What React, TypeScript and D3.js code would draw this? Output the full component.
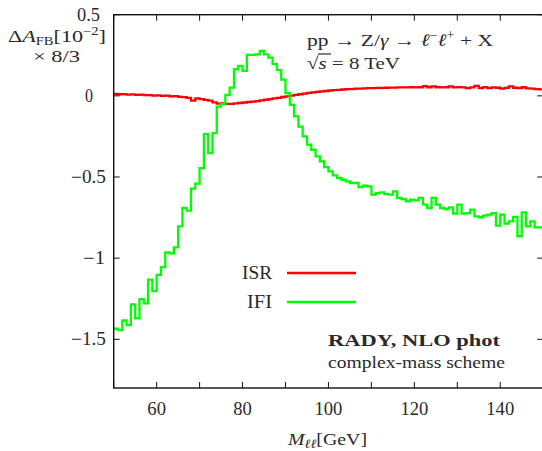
import React from "react";
import * as d3 from "d3";

// bin edges: 1 GeV bins from 50 to 150
const binStart = 50;
const binEnd = 150;

const isrValues = [
  0.012, 0.010, 0.011, 0.008, 0.009, 0.006, 0.007, 0.004, 0.005, 0.002,
  0.003, 0.000, 0.001, -0.003, -0.002, -0.006, -0.008, -0.012, -0.030, -0.016,
  -0.020, -0.025, -0.030, -0.040, -0.048, -0.046, -0.050, -0.049, -0.046, -0.044,
  -0.041, -0.038, -0.035, -0.032, -0.028, -0.024, -0.020, -0.016, -0.012, -0.007,
  -0.003, 0.002, 0.006, 0.010, 0.014, 0.018, 0.021, 0.024, 0.027, 0.030,
  0.033, 0.035, 0.037, 0.039, 0.041, 0.042, 0.044, 0.045, 0.046, 0.047,
  0.048, 0.049, 0.049, 0.050, 0.051, 0.051, 0.052, 0.052, 0.052, 0.053,
  0.052, 0.053, 0.060, 0.053, 0.059, 0.053, 0.052, 0.053, 0.058, 0.052,
  0.054, 0.052, 0.048, 0.052, 0.062, 0.048, 0.054, 0.047, 0.052, 0.050,
  0.044, 0.049, 0.058, 0.050, 0.047, 0.053, 0.046, 0.044, 0.041, 0.040,
];

const ifiValues = [
  -1.435, -1.443, -1.384, -1.412, -1.285, -1.371, -1.253, -1.279, -1.132, -1.203,
  -1.103, -1.056, -0.964, -0.970, -0.933, -0.804, -0.691, -0.707, -0.572, -0.541,
  -0.445, -0.236, -0.353, -0.230, -0.066, -0.051, 0.006, 0.051, 0.164, 0.185,
  0.154, 0.252, 0.252, 0.256, 0.277, 0.256, 0.235, 0.195, 0.160, 0.100,
  0.017, -0.055, -0.127, -0.189, -0.250, -0.301, -0.332, -0.373, -0.404, -0.439,
  -0.465, -0.490, -0.506, -0.517, -0.527, -0.537, -0.537, -0.562, -0.554, -0.558,
  -0.609, -0.599, -0.595, -0.605, -0.609, -0.588, -0.629, -0.636, -0.650, -0.640,
  -0.644, -0.629, -0.670, -0.691, -0.629, -0.670, -0.691, -0.697, -0.687, -0.726,
  -0.670, -0.726, -0.722, -0.701, -0.742, -0.748, -0.738, -0.732, -0.722, -0.800,
  -0.732, -0.787, -0.773, -0.746, -0.865, -0.718, -0.804, -0.773, -0.810, -0.810,
];

const xTicks = [50, 60, 70, 80, 90, 100, 110, 120, 130, 140, 150];
const xTickLabels = ["60", "80", "100", "120", "140"];
const yTicks = [0.5, 0, -0.5, -1, -1.5];
const yTickLabels = ["0.5", "0", "−0.5", "−1", "−1.5"];

const W = 542;
const H = 451;
const FONT = "'Liberation Serif', 'DejaVu Serif', serif";
const TXT = "#2a2a2a";
const FS = 17.5;

// rough widths of the Computer Modern labels in the original
const yLabelWidth: Record<string, number> = { "0.5": 23, "0": 8, "−0.5": 35, "−1": 22, "−1.5": 35 };
const yLabelEnd: Record<string, number> = { "0.5": 100, "0": 93, "−0.5": 106, "−1": 105, "−1.5": 106 };

export default function App() {
  const x = d3.scaleLinear().domain([50, 150]).range([113.7, 543.2]);
  const y = d3.scaleLinear().domain([-1.8, 0.5]).range([388, 14.7]);

  const edges = d3.range(binStart, binEnd + 1);
  const stepLine = d3
    .line<[number, number]>()
    .x((d) => x(d[0]))
    .y((d) => y(d[1]))
    .curve(d3.curveStepAfter);

  const toPts = (vals: number[]): [number, number][] =>
    edges.map((e, i) => [e, vals[Math.min(i, vals.length - 1)]]);

  const left = x(50);
  const right = x(150);
  const top = y(0.5);
  const bottom = y(-1.8);

  const T = (p: any) => (
    <text fontFamily={FONT} fontSize={FS} fill={TXT} lengthAdjust="spacingAndGlyphs" {...p} />
  );

  return (
    <div style={{ position: "absolute", left: 0, top: 0 }}>
      <svg width={W} height={H} style={{ display: "block", background: "#fff" }}>
        <defs>
          <clipPath id="plotClip">
            <rect x={left} y={top} width={right - left} height={bottom - top} />
          </clipPath>
        </defs>

        <g clipPath="url(#plotClip)">
          <path d={stepLine(toPts(isrValues)) || ""} fill="none" stroke="#ff0000" strokeWidth={2.3} />
          <path d={stepLine(toPts(ifiValues)) || ""} fill="none" stroke="#00ff00" strokeWidth={2.3} />
        </g>

        {/* frame */}
        <rect x={left} y={top} width={right - left} height={bottom - top} fill="none" stroke="#111" strokeWidth={1.4} />

        {/* x ticks (inward, bottom + top) */}
        {xTicks.map((t) => (
          <g key={"xt" + t}>
            <line x1={x(t)} x2={x(t)} y1={bottom} y2={bottom - 6} stroke="#111" strokeWidth={1} />
            <line x1={x(t)} x2={x(t)} y1={top} y2={top + 6} stroke="#111" strokeWidth={1} />
          </g>
        ))}
        {xTickLabels.map((l) => (
          <T key={"xl" + l} x={x(+l)} y={415} fontSize={18} textAnchor="middle" textLength={l.length * 9.3}>
            {l}
          </T>
        ))}

        {/* y ticks */}
        {yTicks.map((t, i) => (
          <g key={"yt" + t}>
            <line x1={left} x2={left + 6} y1={y(t)} y2={y(t)} stroke="#111" strokeWidth={1} />
            <line x1={right} x2={right - 6} y1={y(t)} y2={y(t)} stroke="#111" strokeWidth={1} />
            <T
              x={yLabelEnd[yTickLabels[i]] - yLabelWidth[yTickLabels[i]]}
              y={y(t) + 6}
              fontSize={18}
              textLength={yLabelWidth[yTickLabels[i]]}
            >
              {yTickLabels[i]}
            </T>
          </g>
        ))}

        {/* y label */}
        <T x={8} y={42} textLength={98}>
          Δ<tspan fontStyle="italic">A</tspan>
          <tspan fontSize={11.5} dy={3}>FB</tspan>
          <tspan dy={-3}>[10</tspan>
          <tspan fontSize={11.5} dy={-7}>−2</tspan>
          <tspan dy={7}>]</tspan>
        </T>
        <T x={33} y={62} textLength={47}>
          × 8/3
        </T>

        {/* x label */}
        <T x={288} y={445} textLength={79}>
          <tspan fontStyle="italic">M</tspan>
          <tspan fontSize={12.5} fontStyle="italic" dy={3}>ℓℓ</tspan>
          <tspan dy={-3}>[GeV]</tspan>
        </T>

        {/* process annotation */}
        <T x={307} y={46} textLength={186}>
          pp → Z/<tspan fontStyle="italic">γ</tspan> → <tspan fontStyle="italic">ℓ</tspan>
          <tspan fontSize={11.5} dy={-7}>−</tspan>
          <tspan dy={7} fontStyle="italic">ℓ</tspan>
          <tspan fontSize={11.5} dy={-7}>+</tspan>
          <tspan dy={7}> + X</tspan>
        </T>
        <T x={307} y={69} textLength={93}>
          √<tspan fontStyle="italic">s</tspan> = 8 TeV
        </T>
        <line x1={318} x2={331} y1={54} y2={54} stroke={TXT} strokeWidth={1.2} />

        {/* legend */}
        <T x={242} y={279} fontSize={18} textLength={30}>ISR</T>
        <line x1={287} x2={356} y1={273} y2={273} stroke="#ff0000" strokeWidth={2.3} />
        <T x={247} y={308} fontSize={18} textLength={25}>IFI</T>
        <line x1={287} x2={356} y1={302} y2={302} stroke="#00ff00" strokeWidth={2.3} />

        {/* scheme notes */}
        <T x={328} y={346} fontWeight="bold" textLength={172}>
          RADY, NLO phot
        </T>
        <T x={328} y={368} fontSize={16.5} textLength={177}>
          complex-mass scheme
        </T>
      </svg>
    </div>
  );
}
